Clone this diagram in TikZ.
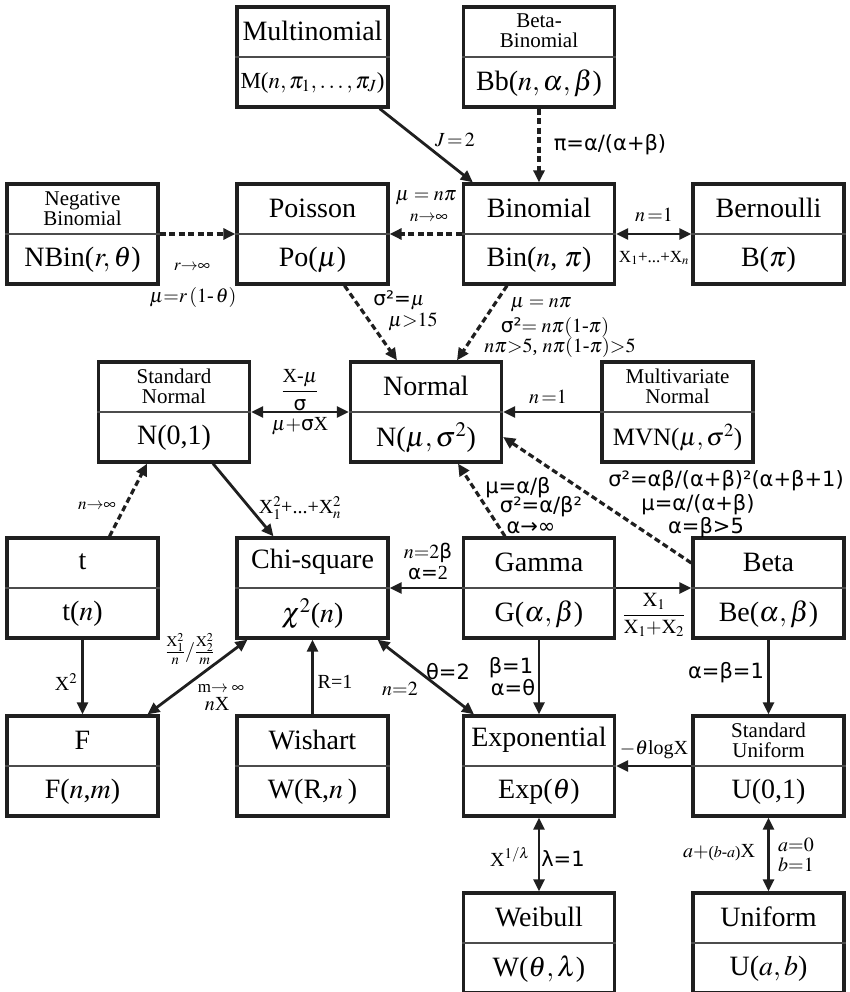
\documentclass[tikz,border=0pt]{standalone}
\usepackage{mathptmx}
\usepackage{fontspec}
\setmainfont{Liberation Serif}
\newfontfamily\dv{DejaVu Sans}
\usetikzlibrary{arrows.meta,calc}
\newcommand\distbox[5]{%
  \node[dbox] (#1) at (#2,#3) {};
  \draw[divl] (#1.west) -- (#1.east);
  \node[ttl] (#1-t) at ($(#1.north)!0.5!(#1.center)$) {#4};
  \node[frm] (#1-f) at ($(#1.south)!0.5!(#1.center)$) {#5};}
\newcommand\distboxs[5]{%
  \node[dbox] (#1) at (#2,#3) {};
  \draw[divl] (#1.west) -- (#1.east);
  \node[ttls] (#1-t) at ($(#1.north)!0.5!(#1.center)$) {#4};
  \node[frm] (#1-f) at ($(#1.south)!0.5!(#1.center)$) {#5};}
\tikzset{
  dbox/.style={draw=black!88, line width=3.3pt, minimum width=151pt, minimum height=100pt, inner sep=0pt, fill=white},
  divl/.style={draw=black!70, line width=1.5pt},
  ttl/.style={font=\fontsize{28}{30}\selectfont, inner sep=0pt},
  ttls/.style={font=\fontsize{21}{20}\selectfont, align=center, inner sep=0pt},
  frm/.style={font=\fontsize{28}{30}\selectfont, inner sep=0pt},
  conn/.style={line width=2.8pt, draw=black!88, ->},
  dconn/.style={conn, line width=3.2pt, dash pattern=on 6pt off 3.5pt},
  dbl/.style={line width=2.8pt, draw=black!88, <->},
  lbl/.style={font=\fontsize{20}{22}\selectfont, inner sep=0pt},
  slbl/.style={font=\fontsize{17}{18}\selectfont, inner sep=0pt},
  glbl/.style={font=\dv\fontsize{21}{23}\selectfont, inner sep=0pt},
}
\begin{document}
\begin{tikzpicture}[x=1pt,y=-1pt,>={Triangle[length=12pt,width=11pt]}]
\useasboundingbox (0,0) rectangle (850,992);
\fill[white] (0,0) rectangle (850,992);
\clip (0,0) rectangle (850,992);
% boxes
\distbox{multi}{312.5}{57}{Multinomial}{\fontsize{23}{25}\selectfont M($n,\pi_1,\ldots,\pi_J$)}
\distboxs{bb}{539}{57}{Beta-\\Binomial}{Bb($n,\alpha,\beta$)}
\distboxs{nbin}{82.5}{234}{Negative\\Binomial}{NBin($r,\theta$)}
\distbox{poi}{312.5}{234}{Poisson}{Po($\mu$)}
\distbox{bin}{539}{234}{Binomial}{Bin($n$, $\pi$)}
\distbox{bern}{768.5}{234}{Bernoulli}{B($\pi$)}
\distboxs{snorm}{174}{412}{Standard\\Normal}{N(0,1)}
\distbox{norm}{426}{412}{Normal}{N($\mu,\sigma^2$)}
\distboxs{mvn}{677.5}{412}{Multivariate\\Normal}{\fontsize{25}{27}\selectfont MVN($\mu,\sigma^2$)}
\distbox{t}{82.5}{588}{t}{t($n$)}
\distbox{chi}{312.5}{588}{Chi-square}{$\chi^2$($n$)}
\distbox{gam}{539}{588}{Gamma}{G($\alpha,\beta$)}
\distbox{beta}{768.5}{588}{Beta}{Be($\alpha,\beta$)}
\distbox{f}{82.5}{766}{F}{F($n$,$m$)}
\distbox{wish}{312.5}{766}{Wishart}{W(R,$n$\,)}
\distbox{exp}{539}{766}{Exponential}{Exp($\theta$)}
\distboxs{suni}{768.5}{766}{Standard\\Uniform}{U(0,1)}
\distbox{weib}{539}{943}{Weibull}{W($\theta,\lambda$)}
\distbox{uni}{768.5}{943}{Uniform}{U($a,b$)}
% connectors
\draw[conn] ([xshift=-10pt]multi.south east) -- ([xshift=11pt]bin.north west);
\draw[dconn] (bb.south) -- (bin.north);
\draw[dconn] (bin.west) -- (poi.east);
\draw[dconn] (nbin.east) -- (poi.west);
\draw[dbl] (bin.east) -- (bern.west);
\draw[dconn] ([xshift=32pt]poi.south) -- ([xshift=-29pt]norm.north);
\draw[dconn] ([xshift=-32pt]bin.south) -- ([xshift=31pt]norm.north);
\draw[dbl] (snorm.east) -- (norm.west);
\draw[conn] (mvn.west) -- (norm.east);
\draw[conn] ([xshift=39pt]snorm.south) -- ([xshift=-39pt]chi.north);
\draw[dconn] ([xshift=27pt]t.north) -- ([xshift=-27pt]snorm.south);
\draw[dconn] ([xshift=-34pt]gam.north) -- ([xshift=32pt]norm.south);
\draw[dconn] ([yshift=25pt]beta.west) -- ([yshift=-25pt]norm.east);
\draw[conn] (gam.west) -- (chi.east);
\draw[conn] (gam.east) -- (beta.west);
\draw[conn] (t.south) -- (f.north);
\draw[dbl] ([xshift=-65pt]chi.south) -- ([xshift=65pt]f.north);
\draw[conn] (wish.north) -- (chi.south);
\draw[dbl] ([xshift=65pt]chi.south) -- ([xshift=-65pt]exp.north);
\draw[conn] (gam.south) -- (exp.north);
\draw[conn] (beta.south) -- (suni.north);
\draw[conn] (suni.west) -- (exp.east);
\draw[dbl] (exp.south) -- (weib.north);
\draw[dbl] (suni.south) -- (uni.north);
% labels
\node[lbl] (lJ) at (455,140) {$J\!=\!2$};
\node[glbl] (lpi) at (610,145) {π=α/(α+β)};
\node[lbl] (lmunp) at (426,198) {$\mu=n\pi$};
\node[slbl] (lninf) at (429,218) {$n{\rightarrow}\infty$};
\node[slbl] (lrinf) at (192,267) {$r{\rightarrow}\infty$};
\node[lbl] (lmur) at (193,297) {$\mu{=}r\,(1$-$\,\theta)$};
\node[lbl] (ln1a) at (654,215) {$n\,{=}1$};
\node[slbl] (lxsum) at (654,258) {X$_1$+...+X$_n$};
\node[lbl] (ls2mu) at (399,300) {{\dv σ²=}$\mu$};
\node[lbl] (lmu15) at (413,322) {$\mu{>}15$};
\node[lbl] (lbn1) at (541,305) {$\mu=n\pi$};
\node[lbl] (lbn2) at (555,327) {{\dv σ²}$=n\pi(1$-$\pi)$};
\node[lbl] (lbn3) at (560,347) {$n\pi{>}5$, $n\pi(1$-$\pi){>}5$};
\node[lbl] (lfrac) at (300,390) {$\displaystyle\frac{\mbox{X-}\mu}{\mbox{\dv σ}}$};
\node[lbl] (lmusx) at (300,426) {$\mu+${\dv σ}X};
\node[lbl] (ln1b) at (548,397) {$n\,{=}1$};
\node[lbl] (lchisum) at (300,508) {X$_1^2$+...+X$_n^2$};
\node[slbl] (lninf2) at (97,506) {$n{\rightarrow}\infty$};
\node[glbl] (lg1) at (518,488) {μ=α/β};
\node[glbl] (lg2) at (541,507) {σ²=α/β²};
\node[glbl] (lg3) at (531,528) {α→∞};
\node[glbl] (lb1) at (726,481) {σ²=αβ/(α+β)²(α+β+1)};
\node[glbl] (lb2) at (698,505) {μ=α/(α+β)};
\node[glbl] (lb3) at (706,528) {α=β>5};
\node[lbl] (lgc1) at (428,553) {$n{=}2${\dv β}};
\node[lbl] (lgc2) at (428,573) {{\dv α=}2};
\node[lbl] (lgb) at (654,615) {$\displaystyle\frac{\mathrm{X}_1}{\mathrm{X}_1{+}\mathrm{X}_2}$};
\node[lbl] (lx2) at (66,682) {X$^2$};
\node[lbl] (lfchi) at (190,649) {$\frac{\mathrm{X}_1^2}{n}/\frac{\mathrm{X}_2^2}{m}$};
\node[slbl] (lminf) at (221,688) {m$\rightarrow\infty$};
\node[lbl] (lnx) at (217,704) {$n$X};
\node[lbl] (lr1) at (335,682) {R=1};
\node[glbl] (lth2) at (448,672) {θ=2};
\node[lbl] (ln2) at (400,689) {$n{=}2$};
\node[glbl] (lbe1) at (511,668) {β=1};
\node[glbl] (lat) at (513,688) {α=θ};
\node[glbl] (labb) at (726,673) {α=β=1};
\node[lbl] (ltlog) at (654,750) {$-\theta$logX};
\node[lbl] (lxl) at (510,857) {X$^{1/\lambda}$};
\node[glbl] (ll1) at (563,859) {λ=1};
\node[lbl] (lab) at (719,853) {$a+${\fontsize{16}{18}\selectfont($b$-$a$)}X};
\node[lbl] (la0) at (796,845) {$a{=}0$};
\node[lbl] (lb1u) at (796,865) {$b{=}1$};
\end{tikzpicture}
\end{document}
